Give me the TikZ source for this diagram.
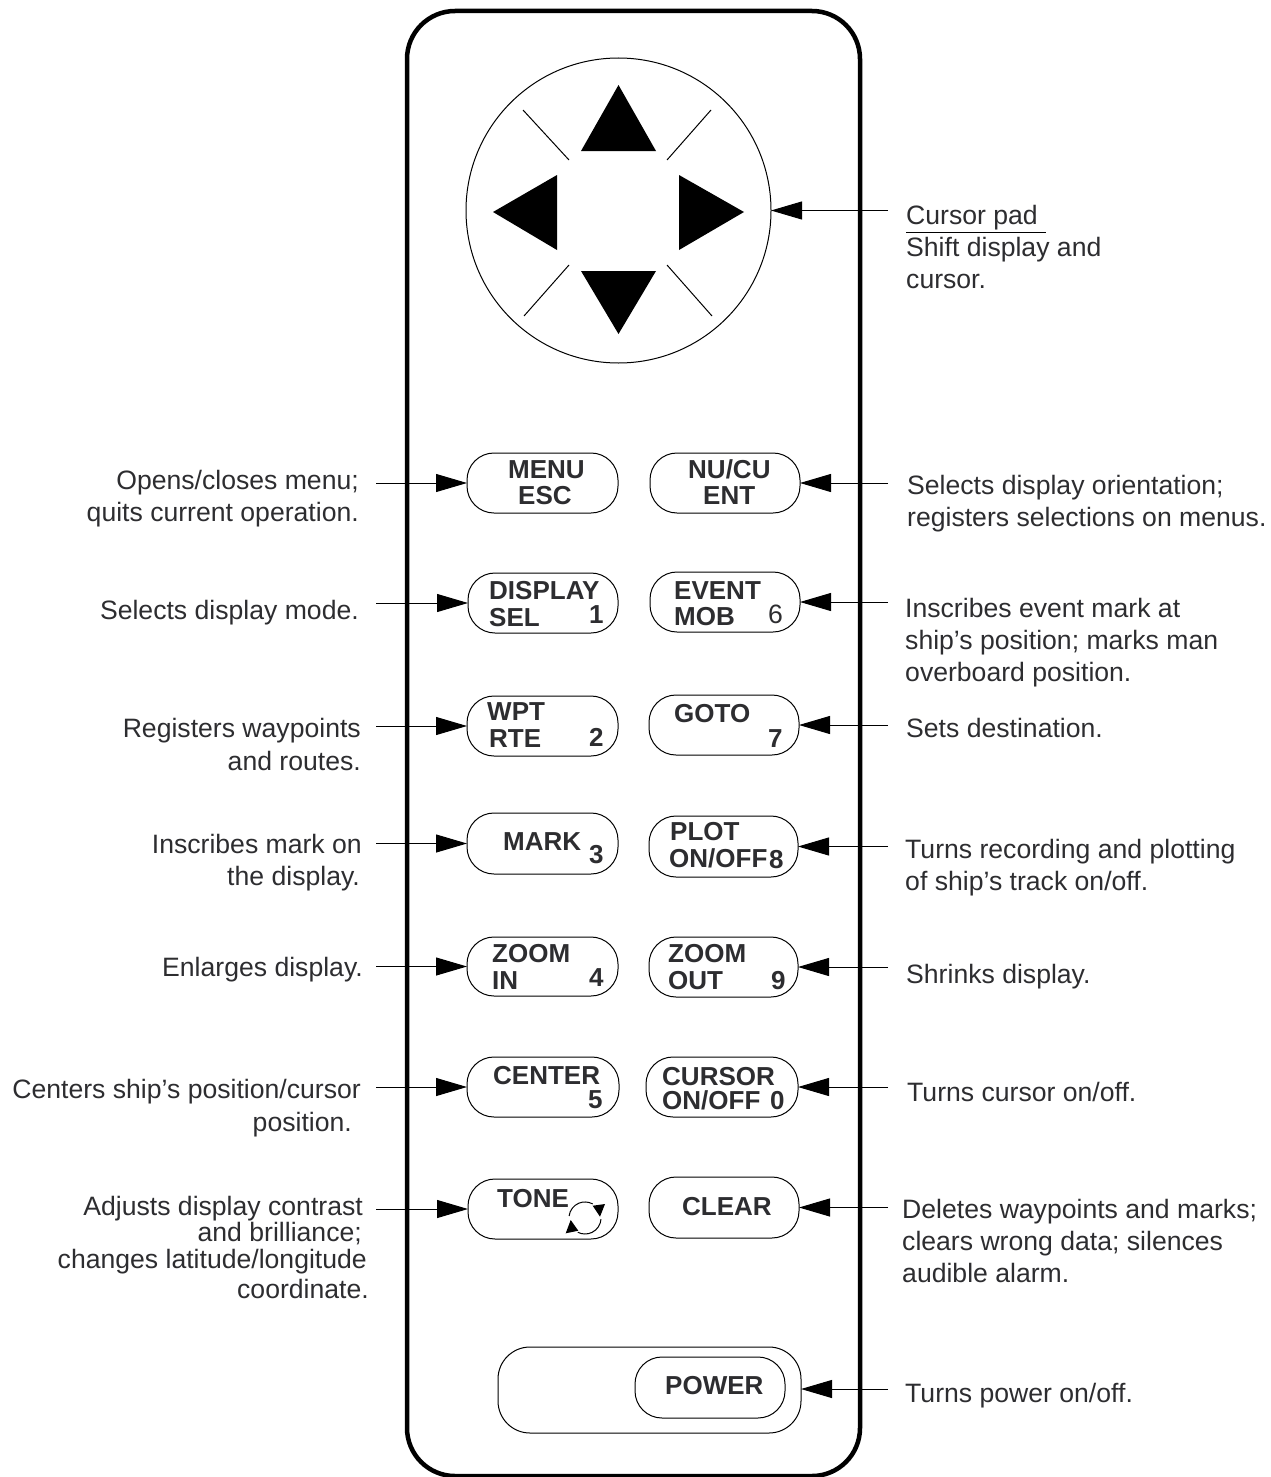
\documentclass[tikz,border=0pt]{standalone}
\usepackage{fontspec}
\setmainfont{Liberation Sans}
\usetikzlibrary{arrows.meta}
\definecolor{txt}{RGB}{45,45,48}
\tikzset{
 x=1pt,y=-1pt,
 keybox/.style={draw=black,line width=1pt,rounded corners=27pt},
 keyt/.style={font=\fontsize{26}{26}\selectfont\bfseries,text=txt,inner sep=0pt,anchor=base west},
 lab/.style={font=\fontsize{26.6}{26.6}\selectfont,text=txt,inner sep=0pt,anchor=base west},
 labr/.style={font=\fontsize{26.6}{26.6}\selectfont,text=txt,inner sep=0pt,anchor=base east},
 pt/.style={draw=black,line width=1pt,-{Triangle[length=31pt,width=18pt,fill=black]}},
 tri/.style={fill=black,draw=none},
}
\newcommand{\keyb}[5]{\draw[keybox] (#2,#3) rectangle (#4,#5); \coordinate (#1r) at (#4,{(#3+#5)/2}); \coordinate (#1l) at (#2,{(#3+#5)/2});}
\begin{document}
\begin{tikzpicture}
\useasboundingbox (0,0) rectangle (1270,1477);
\begin{scope}
\clip (0,0) rectangle (1270,1477);
\draw[black,line width=4.5pt,rounded corners=48pt] (407,11) rectangle (860,1476);
\end{scope}
% pad
\draw[black,line width=1pt] (618.5,210.5) circle (152.5);
\coordinate (pad) at (771,210.5);
\fill[tri] (618.5,85) -- (656,151) -- (581,151) -- cycle;
\fill[tri] (618.5,334) -- (656,271) -- (581,271) -- cycle;
\fill[tri] (493,212) -- (557,175) -- (557,250) -- cycle;
\fill[tri] (744,212) -- (679,175) -- (679,250) -- cycle;
\draw[black,line width=1pt] (523,110) -- (569,160) (711,110) -- (667,160) (524,316) -- (569,265) (712,316) -- (667,265);
% keys
\keyb{a}{467}{453}{618}{513}
\keyb{b}{650}{453}{800}{513}
\keyb{c}{468}{573}{618}{633}
\keyb{d}{650}{572}{800}{632}
\keyb{e}{467}{696}{618}{756}
\keyb{f}{649}{695}{799}{755}
\keyb{g}{467}{813}{618}{874}
\keyb{h}{649}{816}{798}{877}
\keyb{i}{467}{937}{618}{996}
\keyb{j}{649}{937}{798}{997}
\keyb{k}{467}{1057}{619}{1117}
\keyb{l}{646}{1057}{798}{1117}
\keyb{m}{468}{1179}{618}{1239}
\keyb{n}{649}{1177}{799}{1238}
\begin{scope}[rounded corners=32pt]
\draw[draw=black,line width=1pt] (498,1347) rectangle (801,1433);
\end{scope}
\coordinate (qr) at (801,1389);
\keyb{p}{635}{1357}{785}{1418}
% key text
\node[keyt] at (508,478) {MENU};
\node[keyt] at (518,504) {ESC};
\node[keyt] at (688,478) {NU/CU};
\node[keyt] at (703,504) {ENT};
\node[keyt] at (489,599) {DISPLAY};
\node[keyt] at (489,626) {SEL};
\node[keyt] at (589,623) {1};
\node[keyt] at (674,599) {EVENT};
\node[keyt] at (674,625) {MOB};
\node[lab] at (768,623) {6};
\node[keyt] at (487,720) {WPT};
\node[keyt] at (489,747) {RTE};
\node[keyt] at (589,746) {2};
\node[keyt] at (674,722) {GOTO};
\node[keyt] at (768,747) {7};
\node[keyt] at (503,850) {MARK};
\node[keyt] at (589,863) {3};
\node[keyt] at (670,840) {PLOT};
\node[keyt] at (669,867) {ON/OFF};
\node[keyt] at (769,868) {8};
\node[keyt] at (492,962) {ZOOM};
\node[keyt] at (492,989) {IN};
\node[keyt] at (589,986) {4};
\node[keyt] at (668,962) {ZOOM};
\node[keyt] at (668,989) {OUT};
\node[keyt] at (771,989) {9};
\node[keyt] at (493,1084) {CENTER};
\node[keyt] at (588,1108) {5};
\node[keyt] at (662,1085) {CURSOR};
\node[keyt] at (662,1109) {ON/OFF};
\node[keyt] at (770,1109) {0};
\node[keyt] at (497,1207) {TONE};
\node[keyt] at (682,1215) {CLEAR};
\node[keyt] at (665,1394) {POWER};
% tone glyph
\draw[black,line width=1pt] (569.1,1216) arc[start angle=187,end angle=299,radius=16];
\draw[black,line width=1pt] (601,1219.1) arc[start angle=4,end angle=117,radius=16];
\fill[tri] (592.7,1205.7) -- (605,1204) -- (600,1216.7) -- cycle;
\fill[tri] (570.7,1220) -- (578.3,1230.7) -- (565.7,1233.3) -- cycle;
% connectors
\coordinate (lx) at (376,0);
\coordinate (rx) at (888,0);
\draw[pt] (rx |- pad) -- (pad);
\draw[pt] (lx |- al) -- (al);
\draw[pt] (lx |- cl) -- (cl);
\draw[pt] (lx |- el) -- (el);
\draw[pt] (lx |- gl) -- (gl);
\draw[pt] (lx |- il) -- (il);
\draw[pt] (lx |- kl) -- (kl);
\draw[pt] (lx |- ml) -- (ml);
\draw[pt] (rx |- br) -- (br);
\draw[pt] (rx |- dr) -- (dr);
\draw[pt] (rx |- fr) -- (fr);
\draw[pt] (rx |- hr) -- (hr);
\draw[pt] (rx |- jr) -- (jr);
\draw[pt] (rx |- lr) -- (lr);
\draw[pt] (rx |- nr) -- (nr);
\draw[pt] (rx |- qr) -- (qr);
% right labels
\node[lab] at (906,224) {Cursor pad};
\draw[black,line width=1pt] (906,232) -- (1046,232);
\node[lab] at (906,256) {Shift display and};
\node[lab] at (906,288) {cursor.};
\node[lab] at (907,494) {Selects display orientation;};
\node[lab] at (907,526) {registers selections on menus.};
\node[lab] at (905,617) {Inscribes event mark at};
\node[lab] at (905,649) {ship’s position; marks man};
\node[lab] at (905,681) {overboard position.};
\node[lab] at (906,737) {Sets destination.};
\node[lab] at (905,858) {Turns recording and plotting};
\node[lab] at (905,890) {of ship’s track on/off.};
\node[lab] at (906,983) {Shrinks display.};
\node[lab] at (907,1101) {Turns cursor on/off.};
\node[lab] at (902,1218) {Deletes waypoints and marks;};
\node[lab] at (902,1250) {clears wrong data; silences};
\node[lab] at (902,1282) {audible alarm.};
\node[lab] at (905,1402) {Turns power on/off.};
% left labels
\node[labr] at (359,489) {Opens/closes menu;};
\node[labr] at (359,521) {quits current operation.};
\node[labr] at (359,619) {Selects display mode.};
\node[labr] at (361,737) {Registers waypoints};
\node[labr] at (361,770) {and routes.};
\node[labr] at (362,853) {Inscribes mark on};
\node[labr] at (360,885) {the display.};
\node[labr] at (363,976) {Enlarges display.};
\node[labr] at (361,1098) {Centers ship’s position/cursor};
\node[labr] at (352,1131) {position.};
\node[labr] at (363,1215) {Adjusts display contrast};
\node[labr] at (362,1241) {and brilliance;};
\node[labr] at (367,1268) {changes latitude/longitude};
\node[labr] at (369,1298) {coordinate.};
\end{tikzpicture}
\end{document}
